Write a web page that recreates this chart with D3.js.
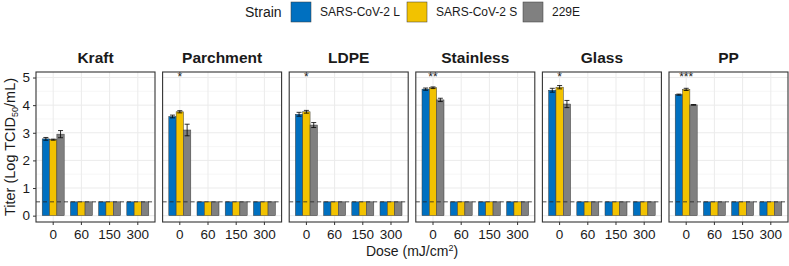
<!DOCTYPE html>
<html>
<head>
<meta charset="utf-8">
<script src="https://cdn.jsdelivr.net/npm/d3@7"></script>
<style>
  body { margin: 0; background: #fff; }
  text { font-family: "Liberation Sans", Arial, sans-serif; }
</style>
</head>
<body>
<div id="chart"></div>
<script>
// surfaces (facets), doses, strains
const surfaces = ["Kraft", "Parchment", "LDPE", "Stainless", "Glass", "PP"];
const doses = ["0", "60", "150", "300"];
const strains = ["SARS-CoV-2 L", "SARS-CoV-2 S", "229E"];
const strainColors = ["#0070C0", "#F2C200", "#808080"];

// titer at dose 0 per surface, order L, S, 229E
const titer0 = [
    [2.78, 2.75, 2.95],
    [3.59, 3.76, 3.10],
    [3.67, 3.76, 3.28],
    [4.58, 4.63, 4.19],
    [4.54, 4.65, 4.04],
    [4.38, 4.57, 4.01]
];
const err0 = [
    [0.05, 0.02, 0.13],
    [0.05, 0.04, 0.21],
    [0.07, 0.05, 0.09],
    [0.04, 0.03, 0.06],
    [0.07, 0.06, 0.13],
    [0.02, 0.04, 0.01]
];
// detection limit value for doses > 0
const limitValue = 0.5;
const signif = ["", "*", "*", "**", "*", "***"];

const yTicks = [0, 1, 2, 3, 4, 5];

let rows = [];
surfaces.forEach((s, i) => {
    doses.forEach((d, j) => {
        strains.forEach((st, k) => {
            rows.push({
                surface: s, dose: d, strain: st,
                value: j === 0 ? titer0[i][k] : limitValue,
                err: j === 0 ? err0[i][k] : 0
            });
        });
    });
});

const W = 789, H = 266;
const svg = d3.select("#chart").append("svg")
    .attr("width", W).attr("height", H);

const panelLeft = 36, panelTop = 72, panelBottom = 222;
const panelW = 119, gap = 7.6;

const y = d3.scaleLinear().domain([-0.23, 5.2]).range([panelBottom, panelTop]);

// x scale within a panel
const x = d3.scaleBand().domain(doses).range([0, panelW]).paddingInner(0.22).paddingOuter(0.22);
const xSub = d3.scaleBand().domain(strains).range([0, x.bandwidth()]);
const color = d3.scaleOrdinal().domain(strains).range(strainColors);

surfaces.forEach((s, i) => {
    const g = svg.append("g")
        .attr("transform", "translate(" + (panelLeft + i * (panelW + gap)) + ",0)");

    // grid
    const minor = d3.range(0.5, 5.2, 1);
    g.selectAll(".minor").data(minor).enter().append("line")
        .attr("x1", 0).attr("x2", panelW)
        .attr("y1", d => y(d)).attr("y2", d => y(d))
        .attr("stroke", "#f2f2f2").attr("stroke-width", 0.6);
    g.selectAll(".major").data(yTicks).enter().append("line")
        .attr("x1", 0).attr("x2", panelW)
        .attr("y1", d => y(d)).attr("y2", d => y(d))
        .attr("stroke", "#ebebeb").attr("stroke-width", 1);
    g.selectAll(".vgrid").data(doses).enter().append("line")
        .attr("x1", d => x(d) + x.bandwidth() / 2).attr("x2", d => x(d) + x.bandwidth() / 2)
        .attr("y1", panelTop).attr("y2", panelBottom)
        .attr("stroke", "#ebebeb").attr("stroke-width", 1);

    const data = rows.filter(r => r.surface === s);

    // bars
    g.selectAll("rect.bar").data(data).enter().append("rect")
        .attr("class", "bar")
        .attr("x", d => x(d.dose) + xSub(d.strain))
        .attr("y", d => y(d.value))
        .attr("width", xSub.bandwidth())
        .attr("height", d => y(0) - y(d.value))
        .attr("fill", d => color(d.strain))
        .attr("stroke", "#3a3a3a")
        .attr("stroke-width", 0.5);

    // error bars
    const eb = data.filter(d => d.err > 0);
    const cx = d => x(d.dose) + xSub(d.strain) + xSub.bandwidth() / 2;
    g.selectAll(".ev").data(eb).enter().append("line")
        .attr("x1", cx).attr("x2", cx)
        .attr("y1", d => y(d.value - d.err)).attr("y2", d => y(d.value + d.err))
        .attr("stroke", "#000").attr("stroke-width", 0.8);
    [-1, 1].forEach(sign => {
        g.selectAll(".cap" + (sign > 0 ? "hi" : "lo")).data(eb).enter().append("line")
            .attr("x1", d => cx(d) - 2.5).attr("x2", d => cx(d) + 2.5)
            .attr("y1", d => y(d.value + sign * d.err))
            .attr("y2", d => y(d.value + sign * d.err))
            .attr("stroke", "#000").attr("stroke-width", 0.8);
    });

    // detection limit
    g.append("line")
        .attr("x1", 0).attr("x2", panelW)
        .attr("y1", y(limitValue)).attr("y2", y(limitValue))
        .attr("stroke", "#222").attr("stroke-width", 0.8)
        .attr("stroke-dasharray", "4,3");

    // significance
    g.append("text")
        .attr("x", x("0") + x.bandwidth() / 2)
        .attr("y", y(5.05) + 5)
        .attr("text-anchor", "middle")
        .attr("font-size", 12)
        .attr("fill", "#222")
        .text(signif[i]);

    // panel border
    g.append("rect")
        .attr("x", 0).attr("y", panelTop)
        .attr("width", panelW).attr("height", panelBottom - panelTop)
        .attr("fill", "none").attr("stroke", "#333").attr("stroke-width", 1.1);

    // strip title
    g.append("text")
        .attr("x", panelW / 2).attr("y", 63)
        .attr("text-anchor", "middle")
        .attr("font-size", 15.5).attr("font-weight", "bold")
        .attr("fill", "#1a1a1a")
        .text(s);

    // x axis
    const xa = g.append("g")
        .attr("transform", "translate(0," + panelBottom + ")")
        .call(d3.axisBottom(x).tickSize(3).tickPadding(4));
    xa.select(".domain").remove();
    xa.selectAll("line").attr("stroke", "#333");
    xa.selectAll("text").attr("font-size", 13.5).attr("fill", "#1a1a1a")
        .style("font-family", "Liberation Sans, Arial, sans-serif");

    if (i === 0) {
        const ya = g.append("g")
            .call(d3.axisLeft(y).tickValues(yTicks).tickFormat(d3.format("d")).tickSize(3).tickPadding(3));
        ya.select(".domain").remove();
        ya.selectAll("line").attr("stroke", "#333");
        ya.selectAll("text").attr("font-size", 13.5).attr("fill", "#1a1a1a")
            .style("font-family", "Liberation Sans, Arial, sans-serif");
    }
});

// axis titles
const xt = svg.append("text")
    .attr("x", 412).attr("y", 256)
    .attr("text-anchor", "middle")
    .attr("font-size", 14).attr("fill", "#1a1a1a");
xt.append("tspan").text("Dose (mJ/cm");
xt.append("tspan").attr("font-size", 9).attr("dy", -5).text("2");
xt.append("tspan").attr("dy", 5).text(")");

const yt = svg.append("text")
    .attr("transform", "translate(15,147) rotate(-90)")
    .attr("text-anchor", "middle")
    .attr("font-size", 14.5).attr("fill", "#1a1a1a");
yt.append("tspan").text("Titer (Log TCID");
yt.append("tspan").attr("font-size", 9).attr("dy", 3).text("50");
yt.append("tspan").attr("dy", -3).text("/mL)");

// legend
const legend = svg.append("g");
legend.append("text")
    .attr("x", 245).attr("y", 17)
    .attr("font-size", 14).attr("fill", "#1a1a1a")
    .text("Strain");
const legendX = [291, 407, 523];
strains.forEach((st, k) => {
    legend.append("rect")
        .attr("x", legendX[k]).attr("y", 2)
        .attr("width", 20).attr("height", 20)
        .attr("fill", color(st)).attr("stroke", "#3a3a3a").attr("stroke-width", 0.5);
    legend.append("text")
        .attr("x", legendX[k] + 29).attr("y", 16)
        .attr("font-size", 12).attr("fill", "#1a1a1a")
        .text(st);
});
</script>
</body>
</html>
